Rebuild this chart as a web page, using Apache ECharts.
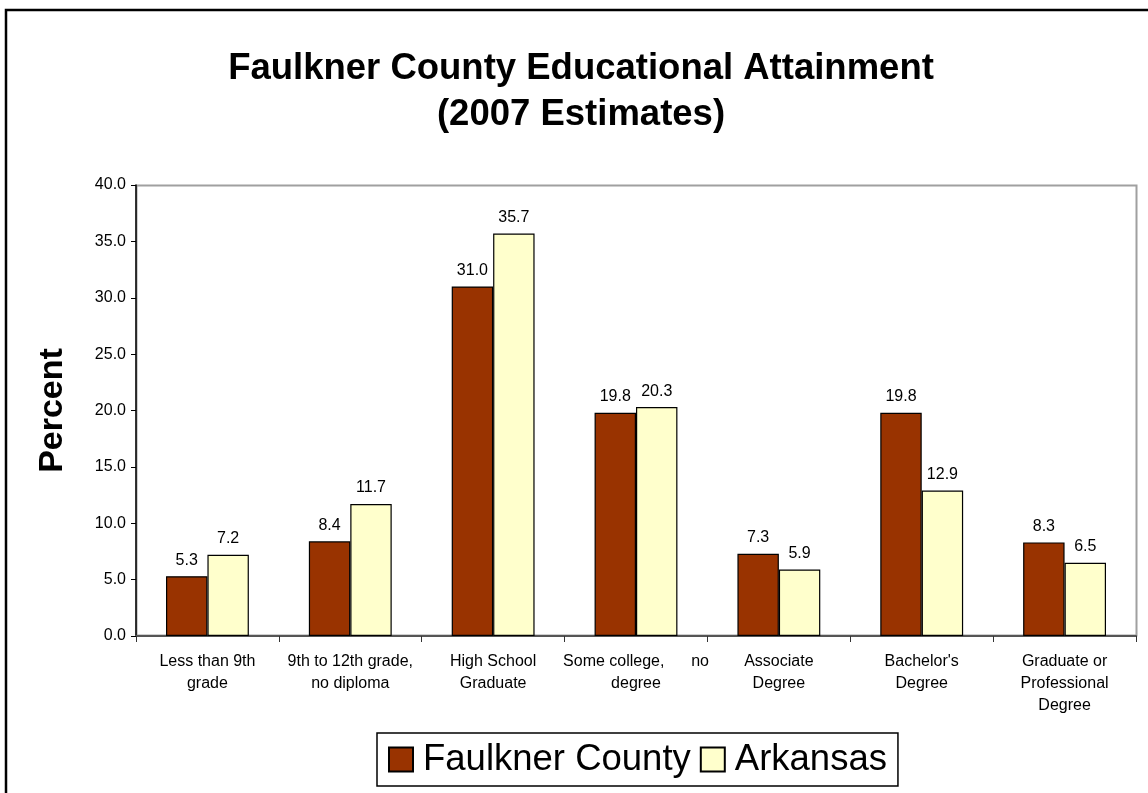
<!DOCTYPE html>
<html>
<head>
<meta charset="utf-8">
<script src="https://cdn.jsdelivr.net/npm/echarts@6/dist/echarts.min.js"></script>
<style>
html,body{margin:0;padding:0;background:#fff;}
#chart{width:1148px;height:793px;}
</style>
</head>
<body>
<div id="chart"></div>
<script>
const categories = [
  "Less than 9th\ngrade",
  "9th to 12th grade,\nno diploma",
  "High School\nGraduate",
  "Some college,      no\ndegree",
  "Associate\nDegree",
  "Bachelor's\nDegree",
  "Graduate or\nProfessional\nDegree"
];
const faulkner = [5.3, 8.4, 31.0, 19.8, 7.3, 19.8, 8.3];
const arkansas = [7.2, 11.7, 35.7, 20.3, 5.9, 12.9, 6.5];
const yTicks = [0, 5, 10, 15, 20, 25, 30, 35, 40];

const FONT = 'Liberation Sans, Arial, sans-serif';
const chart = echarts.init(document.getElementById('chart'), null, {renderer: 'canvas'});
const labelStyle = {
  show: true, position: 'top', distance: 8,
  formatter: p => p.value.toFixed(1),
  fontFamily: FONT, fontSize: 16, color: '#000'
};
chart.setOption({
  backgroundColor: '#fff',
  animation: false,
  title: {
    text: 'Faulkner County Educational Attainment\n(2007 Estimates)',
    left: 576, top: 41, textAlign: 'center',
    textStyle: {fontFamily: FONT, fontWeight: 'bold', fontSize: 36.5, lineHeight: 46, color: '#000'}
  },
  graphic: [{
    type: 'rect', shape: {x: 6, y: 10, width: 1150, height: 800},
    style: {fill: 'none', stroke: '#000', lineWidth: 2.5}, silent: true
  }, {
    type: 'rect', shape: {x: 136.5, y: 185.5, width: 1000, height: 450},
    style: {fill: 'none', stroke: '#a0a0a0', lineWidth: 2}, silent: true, z: -1
  }],
  legend: {
    top: 733, left: 377,
    data: ['Faulkner County', 'Arkansas'],
    itemWidth: 24, itemHeight: 24, itemGap: 9,
    borderColor: '#000', borderWidth: 1.5, padding: [8, 11, 8, 11],
    icon: 'rect',
    textStyle: {fontFamily: FONT, fontSize: 36.5, color: '#000', padding: [0, 0, 0, 5]}
  },
  grid: {left: 136, right: 12, top: 185, bottom: 157, containLabel: false},
  xAxis: {
    type: 'category', data: categories,
    axisLine: {lineStyle: {color: '#555', width: 2}},
    axisTick: {show: true, length: 6, lineStyle: {color: '#333'}},
    axisLabel: {interval: 0, margin: 15, lineHeight: 22, fontFamily: FONT, fontSize: 16, color: '#000', verticalAlign: 'top'}
  },
  yAxis: {
    type: 'value', min: 0, max: 40, interval: 5,
    name: 'Percent', nameLocation: 'middle', nameGap: 66, nameRotate: 90,
    nameTextStyle: {fontFamily: FONT, fontWeight: 'bold', fontSize: 34, color: '#000'},
    axisLine: {show: true, lineStyle: {color: '#000', width: 1.5}},
    axisTick: {show: true, length: 5, lineStyle: {color: '#000'}},
    splitLine: {show: false},
    axisLabel: {formatter: v => yTicks.includes(v) ? v.toFixed(1) : '', margin: 10, fontFamily: FONT, fontSize: 16, color: '#000'}
  },
  series: [{
    name: 'Faulkner County', type: 'bar', data: faulkner,
    barGap: '0%', barCategoryGap: '42%',
    itemStyle: {color: '#993300', borderColor: '#000', borderWidth: 1.2},
    label: labelStyle
  }, {
    name: 'Arkansas', type: 'bar', data: arkansas,
    itemStyle: {color: '#FFFFCC', borderColor: '#000', borderWidth: 1.2},
    label: labelStyle
  }]
});
</script>
</body>
</html>
